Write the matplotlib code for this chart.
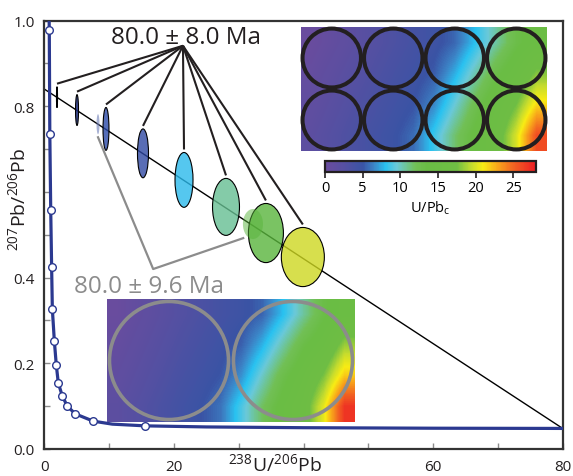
import matplotlib
matplotlib.use("Agg")
import matplotlib.pyplot as plt
import numpy as np
from matplotlib.colors import LinearSegmentedColormap, Normalize
from matplotlib.patches import Ellipse, Circle
from matplotlib.cm import ScalarMappable

# Concordia curve (Tera-Wasserburg)
curve_x = [0.70, 0.77, 0.85, 0.99, 1.13, 1.24, 1.55, 1.85, 2.16, 2.77, 3.55, 4.78,
           7.55, 10.5, 15.6, 25.0, 40.0, 60.0, 80.0]
curve_y = [1.05, 0.977, 0.736, 0.558, 0.425, 0.327, 0.252, 0.196, 0.154, 0.124, 0.100,
           0.082, 0.065, 0.058, 0.054, 0.0515, 0.0497, 0.0485, 0.048]

# age markers on the concordia
marker_x = [0.77, 0.85, 0.99, 1.13, 1.24, 1.55, 1.85, 2.16, 2.77, 3.55, 4.78, 7.55, 15.6]
marker_y = [0.977, 0.736, 0.558, 0.425, 0.327, 0.252, 0.196, 0.154, 0.124, 0.100, 0.082,
            0.065, 0.054]

# regression line through the spots
line_x = [0, 80]
line_y = [0.84, 0.048]

# spot analyses: centre and half-widths of the error ellipses
spot_x = [1.96, 5.05, 8.29, 9.52, 15.23, 21.56, 28.04, 34.2, 39.9, 32.2]
spot_y = [0.821, 0.791, 0.758, 0.747, 0.690, 0.628, 0.565, 0.504, 0.448, 0.525]
spot_xerr = [0.08, 0.23, 0.23, 0.46, 0.85, 1.39, 2.08, 2.70, 3.32, 1.55]
spot_yerr = [0.0245, 0.036, 0.0235, 0.050, 0.057, 0.064, 0.0665, 0.069, 0.069, 0.035]
spot_group = ["8.0", "8.0", "9.6", "8.0", "8.0", "8.0", "8.0", "8.0", "8.0", "9.6"]

age_labels = ["80.0 \u00b1 8.0 Ma", "80.0 \u00b1 9.6 Ma"]

# U/Pbc maps behind the spot circles (rows top to bottom)
top_field = [
    [0.3, 1.0, 1.8, 2.6, 3.3, 4.0, 4.6, 5.6, 8.0, 10.5, 13.0, 14.5],
    [0.8, 1.6, 2.4, 3.1, 3.8, 4.5, 5.3, 7.5, 10.3, 13.0, 15.0, 18.0],
    [1.3, 2.1, 2.9, 3.6, 4.3, 5.0, 6.6, 9.5, 12.5, 15.0, 17.5, 21.5],
    [1.8, 2.6, 3.4, 4.1, 4.8, 5.8, 8.5, 11.5, 14.0, 16.0, 20.0, 26.0],
]
bottom_field = [
    [0.3, 1.1, 1.9, 2.7, 3.4, 4.1, 4.7, 5.5, 7.9, 10.6, 13.2, 14.8],
    [0.8, 1.6, 2.4, 3.2, 3.9, 4.6, 5.4, 7.6, 10.4, 13.2, 15.0, 18.5],
    [1.3, 2.1, 2.9, 3.7, 4.4, 5.1, 6.8, 9.8, 12.8, 15.0, 17.8, 22.0],
    [1.8, 2.6, 3.4, 4.2, 4.9, 6.0, 8.8, 11.8, 14.2, 16.2, 20.5, 27.0],
]
cbar_ticks = [0, 5, 10, 15, 20, 25]
cbar_max = 28

FIG_W, FIG_H = 573, 477


def px_box(x0, y0, x1, y1):
    """Pixel box (top-left origin) -> figure fraction rect."""
    return [x0 / FIG_W, (FIG_H - y1) / FIG_H, (x1 - x0) / FIG_W, (y1 - y0) / FIG_H]


def make_plot(output_filename="out.png"):
    plt.rcParams["font.family"] = ["Open Sans", "DejaVu Sans"]
    plt.rcParams["mathtext.fontset"] = "custom"
    plt.rcParams["mathtext.rm"] = "Open Sans"
    plt.rcParams["mathtext.it"] = "Open Sans:italic"
    plt.rcParams["mathtext.bf"] = "Open Sans:bold"

    stops = [(0, "#6b4c9e"), (2.5, "#5650a2"), (5, "#3a54a5"), (6.5, "#3c86c8"),
             (8, "#29c2f1"), (9.5, "#6ac9d9"), (12, "#72c056"), (13.5, "#6abd45"),
             (17.5, "#6fbe44"), (19.5, "#c6dc2e"), (21, "#f8ec14"), (23, "#f8a51b"),
             (25, "#f26522"), (28, "#ed1c24")]
    cmap = LinearSegmentedColormap.from_list("upb", [(v / cbar_max, c) for v, c in stops])
    norm = Normalize(0, cbar_max)

    fig = plt.figure(figsize=(FIG_W / 100, FIG_H / 100), dpi=100)
    ax = fig.add_axes(px_box(44.3, 21.5, 562.7, 450))
    ax.set_xlim(0, 80)
    ax.set_ylim(0, 1)

    # regression line and concordia
    ax.plot(line_x, line_y, color="black", lw=1.0, zorder=2)
    ax.plot(curve_x, curve_y, color="#2b3990", lw=2.3, zorder=3, clip_on=True)
    ax.plot(marker_x, marker_y, "o", ms=5.5, mfc="white", mec="#2b3990", mew=1.0, zorder=4)

    # error ellipses
    spot_colors = ["black", "#1c2d80", "#6f7fb8", "#2a4aa8", "#2f48a3", "#2abaec",
                   "#66bf92", "#59b53c", "#ced821", "#59b53c"]
    spot_alpha = [1, 0.85, 0.6, 0.8, 0.8, 0.8, 0.8, 0.8, 0.8, 0.5]
    for i in range(len(spot_x)):
        fc = matplotlib.colors.to_rgba(spot_colors[i], spot_alpha[i])
        ec = "black" if spot_group[i] == "8.0" else "none"
        e = Ellipse((spot_x[i], spot_y[i]), 2 * spot_xerr[i], 2 * spot_yerr[i],
                    facecolor=fc, edgecolor=ec, lw=0.8, zorder=5 + i)
        ax.add_patch(e)

    # leader lines to the 8.0 Ma group
    apex = (21.4, 0.941)
    for i in range(len(spot_x)):
        if spot_group[i] == "8.0":
            ax.plot([apex[0], spot_x[i]], [apex[1], spot_y[i] + spot_yerr[i] + 0.007],
                    color="#231f20", lw=1.5, zorder=20, solid_capstyle="butt")
    ax.text(21.9, 0.9475, age_labels[0], fontsize=17.5, ha="center", va="baseline",
            color="#231f20", zorder=21)

    # bracket to the 9.6 Ma group
    grey_idx = [i for i in range(len(spot_x)) if spot_group[i] == "9.6"]
    vertex = (16.8, 0.420)
    a, b = grey_idx
    ax.plot([spot_x[a], vertex[0], spot_x[b] - 0.97 * spot_xerr[b]],
            [spot_y[a] - spot_yerr[a] - 0.007, vertex[1], spot_y[b] - 0.94 * spot_yerr[b]],
            color="#8c8c8c", lw=1.6, zorder=20)
    ax.text(16.1, 0.366, age_labels[1], fontsize=17.5, ha="center", va="baseline",
            color="#8c8c8c", zorder=21)

    # axes styling
    ax.set_xticks(np.arange(0, 81, 10))
    ax.set_xticklabels(["0", "", "20", "", "", "", "60", "", "80"])
    ax.set_yticks(np.round(np.arange(0, 1.01, 0.1), 1))
    ax.set_yticklabels(["0.0", "", "0.2", "", "0.4", "", "", "", "0.8", "", "1.0"])
    ax.tick_params(direction="in", length=4, width=1, color="#8c8c8c",
                   labelsize=11, pad=7, labelcolor="#231f20")
    for s in ax.spines.values():
        s.set_linewidth(1.6)
        s.set_color("#333333")
    ax.set_xlabel("$^{238}$U/$^{206}$Pb", fontsize=14, color="#231f20")
    ax.xaxis.set_label_coords(0.445, -0.008)
    ax.set_ylabel("$^{207}$Pb/$^{206}$Pb", fontsize=14, color="#231f20")
    ax.yaxis.set_label_coords(-0.030, 0.585)

    # top inset: 2 x 4 spots
    ax_top = fig.add_axes(px_box(301, 28, 547, 152))
    ax_top.imshow(top_field, cmap=cmap, norm=norm, extent=(0, 8, 0, 4),
                  aspect="auto", interpolation="bilinear")
    for cx in [1, 3, 5, 7]:
        for cy in [1, 3]:
            ax_top.add_patch(Circle((cx, cy), 0.95, fill=False, lw=2.9,
                                    ec="#231f20", clip_on=False))
    ax_top.set_xlim(0, 8)
    ax_top.set_ylim(0, 4)
    ax_top.axis("off")

    # bottom inset: 2 spots
    ax_bot = fig.add_axes(px_box(107, 300, 355, 423))
    ax_bot.imshow(bottom_field, cmap=cmap, norm=norm, extent=(0, 4, 0, 2),
                  aspect="auto", interpolation="bilinear")
    for cx in [1, 3]:
        ax_bot.add_patch(Circle((cx, 1), 0.96, fill=False, lw=2.6,
                                ec="#8c8c8c", clip_on=False))
    ax_bot.set_xlim(0, 4)
    ax_bot.set_ylim(0, 2)
    ax_bot.axis("off")

    # colour bar
    cax = fig.add_axes(px_box(325, 162, 536, 173))
    sm = ScalarMappable(norm=norm, cmap=cmap)
    cb = fig.colorbar(sm, cax=cax, orientation="horizontal", ticks=cbar_ticks)
    cb.outline.set_linewidth(1.6)
    cb.outline.set_edgecolor("#231f20")
    cb.ax.tick_params(length=4, width=1.2, labelsize=10.5, pad=2, color="#231f20")
    cb.set_label("U/Pb$_\\mathregular{c}$", fontsize=10.5, labelpad=2)

    fig.savefig(output_filename, dpi=100, facecolor="white")


if __name__ == "__main__":
    make_plot("out.png")
